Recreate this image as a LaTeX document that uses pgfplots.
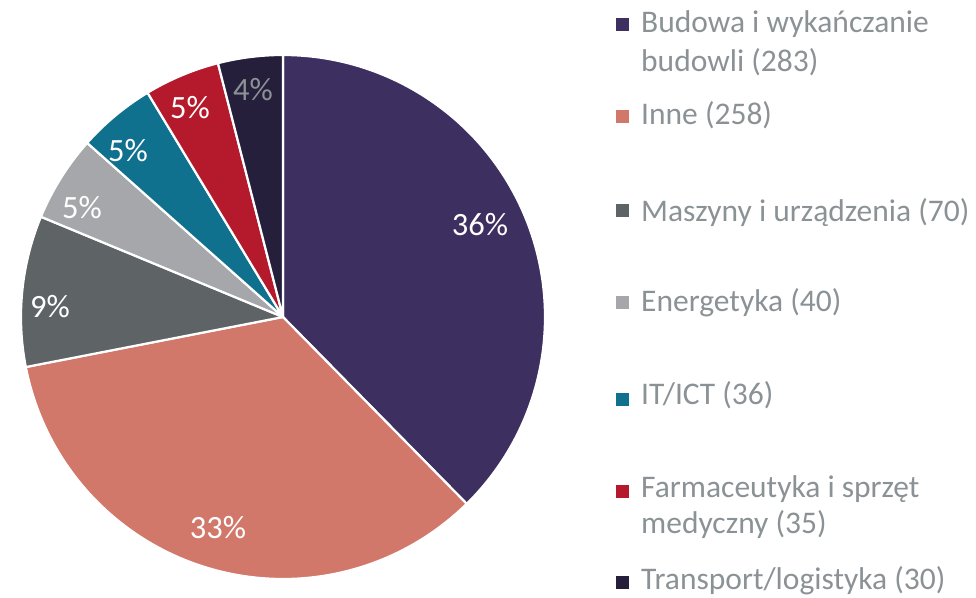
\documentclass[border=0pt]{standalone}
\usepackage{pgfplots}
\pgfplotsset{compat=1.18}
\usepackage{fontspec}
\setmainfont{Carlito}
\definecolor{cBud}{HTML}{3D2F5F}
\definecolor{cInn}{HTML}{D2786B}
\definecolor{cMas}{HTML}{5E6366}
\definecolor{cEne}{HTML}{A5A7AA}
\definecolor{cIT}{HTML}{0F718E}
\definecolor{cFar}{HTML}{B41A2C}
\definecolor{cTra}{HTML}{251F3C}
\definecolor{legtxt}{HTML}{8B9296}
\begin{document}
\begin{tikzpicture}
\useasboundingbox (0,0) rectangle (976pt,597pt);
% values
\def\vA{283}\def\vB{258}\def\vC{70}\def\vD{40}\def\vE{36}\def\vF{35}\def\vG{30}
\pgfmathsetmacro\tot{\vA+\vB+\vC+\vD+\vE+\vF+\vG}
\pgfmathsetmacro\aA{90}
\pgfmathsetmacro\aB{\aA-360*(\vA/\tot)}
\pgfmathsetmacro\aC{\aB-360*(\vB/\tot)}
\pgfmathsetmacro\aD{\aC-360*(\vC/\tot)}
\pgfmathsetmacro\aE{\aD-360*(\vD/\tot)}
\pgfmathsetmacro\aF{\aE-360*(\vE/\tot)}
\pgfmathsetmacro\aG{\aF-360*(\vF/\tot)}
\pgfmathsetmacro\aH{\aG-360*(\vG/\tot)}
\begin{axis}[at={(0,0)},anchor=south west,x=1pt,y=1pt,xmin=0,xmax=976,ymin=0,ymax=597,hide axis,clip=false,
  scale only axis,
  every axis plot/.append style={draw=white,line width=2.2pt,line join=round,samples=120,variable=\t}]
\addplot[fill=cBud,domain=\aB:\aA] ({283+262*cos(\t)},{280+262*sin(\t)}) -- (axis cs:283,280) -- cycle;
\addplot[fill=cInn,domain=\aC:\aB] ({283+262*cos(\t)},{280+262*sin(\t)}) -- (axis cs:283,280) -- cycle;
\addplot[fill=cMas,domain=\aD:\aC] ({283+262*cos(\t)},{280+262*sin(\t)}) -- (axis cs:283,280) -- cycle;
\addplot[fill=cEne,domain=\aE:\aD] ({283+262*cos(\t)},{280+262*sin(\t)}) -- (axis cs:283,280) -- cycle;
\addplot[fill=cIT,domain=\aF:\aE] ({283+262*cos(\t)},{280+262*sin(\t)}) -- (axis cs:283,280) -- cycle;
\addplot[fill=cFar,domain=\aG:\aF] ({283+262*cos(\t)},{280+262*sin(\t)}) -- (axis cs:283,280) -- cycle;
\addplot[fill=cTra,domain=\aH:\aG] ({283+262*cos(\t)},{280+262*sin(\t)}) -- (axis cs:283,280) -- cycle;
% data labels
\begin{scope}[every node/.style={font=\fontsize{32.5}{32.5}\selectfont,text=white,inner sep=0pt}]
\node at (axis cs:480,372) {36\%};
\node at (axis cs:218,69) {33\%};
\node at (axis cs:50,290) {9\%};
\node at (axis cs:82,389) {5\%};
\node at (axis cs:128,446) {5\%};
\node at (axis cs:190,489) {5\%};
\node[text=legtxt] at (axis cs:253,507) {4\%};
\end{scope}
% legend
\begin{scope}[every node/.style={font=\fontsize{31.5}{31.5}\selectfont,text=legtxt,inner sep=0pt,anchor=base west}]
\fill[cBud] (axis cs:616,565.5) rectangle (axis cs:629,578.5);
\node at (axis cs:641,564) {Budowa i wykańczanie};
\node at (axis cs:641,525) {budowli (283)};
\fill[cInn] (axis cs:616,473.5) rectangle (axis cs:629,486.5);
\node at (axis cs:641,472) {Inne (258)};
\fill[cMas] (axis cs:616,379.5) rectangle (axis cs:629,392.5);
\node at (axis cs:641,375) {Maszyny i urządzenia (70)};
\fill[cEne] (axis cs:616,287.5) rectangle (axis cs:629,300.5);
\node at (axis cs:641,285) {Energetyka (40)};
\fill[cIT] (axis cs:616,190.5) rectangle (axis cs:629,203.5);
\node at (axis cs:641,192) {IT/ICT (36)};
\fill[cFar] (axis cs:616,99.5) rectangle (axis cs:629,112.5);
\node at (axis cs:641,100) {Farmaceutyka i sprzęt};
\node at (axis cs:641,64) {medyczny (35)};
\fill[cTra] (axis cs:616,8.5) rectangle (axis cs:629,21.5);
\node at (axis cs:641,8) {Transport/logistyka (30)};
\end{scope}
\end{axis}
\end{tikzpicture}
\end{document}
